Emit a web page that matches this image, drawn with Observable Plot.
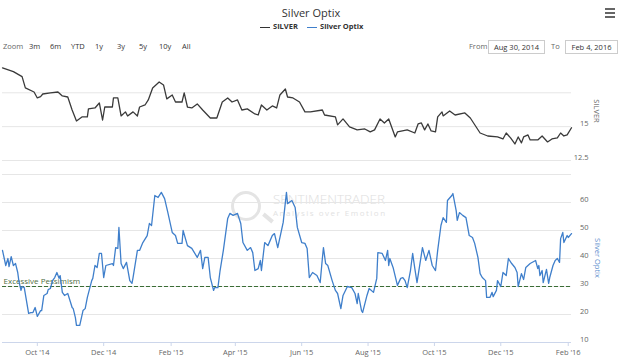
<!DOCTYPE html>
<html><head><meta charset="utf-8">
<script src="https://cdn.jsdelivr.net/npm/d3@7"></script>
<script src="https://cdn.jsdelivr.net/npm/@observablehq/plot@0.6"></script>
<style>
body{margin:0;background:#fff;font-family:"Open Sans",sans-serif;}
#wrap{position:relative;width:620px;height:364px;overflow:hidden;background:#fff;}
#wrap svg{position:absolute;left:0;top:0;}
.abs{position:absolute;white-space:nowrap;line-height:1;}
.c{transform:translate(-50%,-50%);}
.l{transform:translate(0,-50%);}
.btn{font-size:7.5px;color:#333;}
.box{position:absolute;border:1px solid #ccc;font-size:7.5px;color:#333;text-align:center;box-sizing:border-box;line-height:12px;}
</style></head><body><div id="wrap">
<div class="abs c" style="left:311px;top:12px;font-size:11px;color:#333;">Silver Optix</div>
<div class="abs" style="left:605px;top:8px;width:10px;height:1.5px;background:#666;"></div>
<div class="abs" style="left:605px;top:12px;width:10px;height:1.5px;background:#666;"></div>
<div class="abs" style="left:605px;top:16px;width:10px;height:1.5px;background:#666;"></div>
<div class="abs" style="left:260px;top:26.5px;width:10px;height:1.5px;background:#333;"></div>
<div class="abs l" style="left:273px;top:27px;font-size:7.5px;font-weight:bold;color:#333;">SILVER</div>
<div class="abs" style="left:307px;top:26.5px;width:10px;height:1.5px;background:#3f7fcb;"></div>
<div class="abs l" style="left:320px;top:27px;font-size:7.5px;font-weight:bold;color:#333;">Silver Optix</div>
<div class="abs l btn" style="left:3px;top:47px;color:#666;">Zoom</div>
<div class="abs l btn" style="left:29px;top:47px;">3m</div>
<div class="abs l btn" style="left:50px;top:47px;">6m</div>
<div class="abs l btn" style="left:71px;top:47px;">YTD</div>
<div class="abs l btn" style="left:95px;top:47px;">1y</div>
<div class="abs l btn" style="left:117px;top:47px;">3y</div>
<div class="abs l btn" style="left:139px;top:47px;">5y</div>
<div class="abs l btn" style="left:159px;top:47px;">10y</div>
<div class="abs l btn" style="left:182px;top:47px;">All</div>
<div class="abs l btn" style="left:469px;top:47px;color:#666;">From</div>
<div class="box" style="left:488px;top:40px;width:57px;height:14px;">Aug 30, 2014</div>
<div class="abs l btn" style="left:551px;top:47px;color:#666;">To</div>
<div class="box" style="left:565px;top:40px;width:53px;height:14px;">Feb 4, 2016</div>
<div class="abs" style="left:231px;top:191px;width:24px;height:24px;border:3px solid #e4e4e4;border-radius:50%;"></div>
<div class="abs" style="left:262px;top:216px;width:12px;height:4px;background:#e4e4e4;transform:rotate(40deg);"></div>
<div class="abs l" style="left:273px;top:200px;font-size:13.5px;color:#dedede;font-weight:300;">SENTIMENTRADER</div>
<div class="abs l" style="left:273px;top:213px;font-size:8px;color:#e2e2e2;letter-spacing:1.5px;">Analysis over Emotion</div>
<div class="abs c" style="left:596px;top:111px;font-size:7.5px;color:#666;transform:translate(-50%,-50%) rotate(90deg);">SILVER</div>
<div class="abs c" style="left:597px;top:258px;font-size:7.5px;color:#5a8ccc;transform:translate(-50%,-50%) rotate(90deg);">Silver Optix</div>
</div>
<script>
const silverDates = ["2014-08-30","2014-09-09","2014-09-17","2014-09-20","2014-09-28","2014-10-01","2014-10-04","2014-10-06","2014-10-13","2014-10-20","2014-10-24","2014-10-29","2014-11-02","2014-11-06","2014-11-11","2014-11-16","2014-11-17","2014-11-23","2014-11-27","2014-11-30","2014-12-02","2014-12-09","2014-12-10","2014-12-14","2014-12-17","2014-12-21","2014-12-23","2014-12-28","2015-01-01","2015-01-03","2015-01-08","2015-01-11","2015-01-15","2015-01-21","2015-01-25","2015-01-28","2015-02-02","2015-02-05","2015-02-11","2015-02-13","2015-02-16","2015-02-20","2015-02-25","2015-03-02","2015-03-09","2015-03-15","2015-03-20","2015-03-25","2015-03-29","2015-04-03","2015-04-07","2015-04-12","2015-04-19","2015-04-22","2015-04-25","2015-04-30","2015-05-05","2015-05-09","2015-05-12","2015-05-17","2015-05-19","2015-05-24","2015-05-30","2015-06-04","2015-06-09","2015-06-20","2015-06-22","2015-07-02","2015-07-04","2015-07-09","2015-07-15","2015-07-22","2015-07-29","2015-08-03","2015-08-07","2015-08-12","2015-08-16","2015-08-20","2015-08-23","2015-08-26","2015-08-28","2015-09-06","2015-09-13","2015-09-16","2015-09-19","2015-09-22","2015-09-25","2015-09-28","2015-10-02","2015-10-04","2015-10-08","2015-10-09","2015-10-15","2015-10-20","2015-10-29","2015-11-03","2015-11-12","2015-11-19","2015-11-28","2015-12-03","2015-12-06","2015-12-10","2015-12-14","2015-12-17","2015-12-20","2015-12-22","2015-12-26","2015-12-28","2016-01-04","2016-01-08","2016-01-13","2016-01-17","2016-01-22","2016-01-25","2016-01-28","2016-01-31","2016-02-04"];
const silverValues = [19.34,19.06,18.69,17.86,17.56,17.12,17.22,17.41,17.49,17.56,17.27,17.19,16.23,15.42,15.72,15.72,16.31,16.38,16.75,15.49,16.45,16.45,17.12,17.12,15.79,16.09,15.79,16.09,15.79,16.45,16.60,16.97,17.86,18.30,18.08,17.05,17.34,16.82,16.82,17.49,16.45,16.38,16.68,16.23,15.64,15.64,16.82,17.12,16.82,16.97,16.23,16.31,15.94,15.86,16.60,16.23,16.53,16.38,17.34,17.78,17.19,17.12,16.82,16.09,16.09,16.23,15.86,15.72,15.13,15.57,14.98,14.76,14.83,14.61,14.76,15.57,15.27,15.57,14.90,14.24,14.61,14.76,14.53,15.20,15.27,14.76,15.20,14.68,14.61,15.72,16.09,15.79,16.16,15.86,16.01,15.64,14.53,14.31,14.24,14.09,14.53,14.17,13.72,14.24,13.80,14.24,14.39,14.02,14.02,14.31,13.87,14.09,14.17,14.53,14.31,14.39,14.92];

const optixDates = ["2014-08-30","2014-09-02","2014-09-04","2014-09-05","2014-09-07","2014-09-09","2014-09-11","2014-09-13","2014-09-14","2014-09-16","2014-09-17","2014-09-19","2014-09-23","2014-09-25","2014-09-27","2014-09-29","2014-10-01","2014-10-04","2014-10-05","2014-10-07","2014-10-10","2014-10-11","2014-10-13","2014-10-15","2014-10-17","2014-10-19","2014-10-21","2014-10-22","2014-10-24","2014-10-26","2014-10-29","2014-10-31","2014-11-02","2014-11-03","2014-11-05","2014-11-06","2014-11-09","2014-11-12","2014-11-14","2014-11-16","2014-11-20","2014-11-21","2014-11-23","2014-11-25","2014-11-27","2014-11-29","2014-12-01","2014-12-03","2014-12-09","2014-12-10","2014-12-12","2014-12-14","2014-12-15","2014-12-17","2014-12-19","2014-12-22","2014-12-25","2014-12-27","2014-12-28","2015-01-01","2015-01-03","2015-01-06","2015-01-10","2015-01-12","2015-01-14","2015-01-17","2015-01-20","2015-01-23","2015-01-26","2015-01-29","2015-02-02","2015-02-05","2015-02-07","2015-02-11","2015-02-12","2015-02-16","2015-02-20","2015-02-25","2015-02-28","2015-03-02","2015-03-04","2015-03-07","2015-03-09","2015-03-12","2015-03-13","2015-03-16","2015-03-18","2015-03-21","2015-03-25","2015-03-27","2015-03-30","2015-04-03","2015-04-06","2015-04-08","2015-04-12","2015-04-15","2015-04-17","2015-04-19","2015-04-22","2015-04-24","2015-04-25","2015-04-28","2015-05-01","2015-05-05","2015-05-07","2015-05-10","2015-05-15","2015-05-18","2015-05-19","2015-05-23","2015-05-26","2015-05-28","2015-06-01","2015-06-04","2015-06-06","2015-06-08","2015-06-11","2015-06-15","2015-06-18","2015-06-20","2015-06-21","2015-06-23","2015-06-25","2015-06-29","2015-07-02","2015-07-04","2015-07-07","2015-07-09","2015-07-13","2015-07-17","2015-07-20","2015-07-22","2015-07-23","2015-07-26","2015-07-27","2015-07-31","2015-08-02","2015-08-06","2015-08-09","2015-08-10","2015-08-14","2015-08-17","2015-08-19","2015-08-20","2015-08-21","2015-08-24","2015-08-28","2015-08-31","2015-09-02","2015-09-04","2015-09-06","2015-09-09","2015-09-11","2015-09-13","2015-09-15","2015-09-17","2015-09-20","2015-09-23","2015-09-26","2015-09-29","2015-10-02","2015-10-04","2015-10-07","2015-10-09","2015-10-12","2015-10-13","2015-10-17","2015-10-18","2015-10-21","2015-10-22","2015-10-24","2015-10-27","2015-10-30","2015-11-02","2015-11-05","2015-11-07","2015-11-10","2015-11-12","2015-11-14","2015-11-17","2015-11-18","2015-11-21","2015-11-23","2015-11-24","2015-11-27","2015-11-28","2015-12-01","2015-12-03","2015-12-06","2015-12-08","2015-12-11","2015-12-14","2015-12-16","2015-12-17","2015-12-20","2015-12-22","2015-12-24","2015-12-28","2016-01-02","2016-01-04","2016-01-05","2016-01-06","2016-01-08","2016-01-09","2016-01-12","2016-01-14","2016-01-15","2016-01-18","2016-01-20","2016-01-22","2016-01-24","2016-01-25","2016-01-27","2016-01-28","2016-01-31","2016-02-01","2016-02-04"];
const optixValues = [42.9,37.5,40,37.1,40.7,37.5,38.2,35,32.1,28.6,30,29.6,20.4,20.7,20.7,22.5,19.3,21.4,21.4,26.8,27.5,28.9,29.3,32.1,33.2,35,32.9,33.9,27.9,26.8,27.5,25,22.5,22.1,18.9,16.1,16.1,21.4,22.1,26.1,32.1,32.9,37.5,36.8,41.8,41.8,33.2,37.5,38.2,37.5,43.9,43.6,51.1,38.2,36.4,38.6,32.1,31.1,33.2,42.9,42.9,45.7,48.2,52.5,51.8,62.5,61.8,63.6,61.4,56.4,49.3,48.2,45.4,45.4,50,44.6,43.6,40.4,42.9,36.4,40.4,40.4,33.2,28.6,29.6,29.6,35.7,42.9,54.3,56.1,55.4,56.1,52.5,45.7,42.9,43.9,42.1,35.7,36.4,39.3,35.7,45.7,44.6,48.2,48.9,43.9,52.9,63.6,59.6,60.7,58.2,51.1,45.7,45.4,43.6,33.2,35,33.9,31.4,40,43.9,38.2,37.5,32.1,28.6,27.5,22.1,26.8,30,29.6,27.5,23.9,27.5,21.4,20.7,26.8,29.3,27.9,32.9,42.1,41.8,39.3,42.9,37.5,40,36.8,30.4,32.9,33.2,32.1,29.6,35.7,41.8,36.4,31.4,36.4,43.9,39.3,42.9,37.5,35.7,42.9,51.8,54.6,52.9,60.7,62.5,63.2,57.1,53.6,56.4,55.4,54.6,48.2,47.5,45.4,40.4,34.6,33.2,32.1,26.1,26.1,27.9,26.4,28.6,32.1,30,35,33.9,40,38.2,36.8,35,30,34.6,32.5,36.8,38.2,39.3,36.4,37.5,33.9,35.7,31.4,36.1,31.1,33.2,37.5,39.3,40,38.6,47.1,49.3,45.7,48.2,47.5,48.9];

const xDomain = ["2014-08-30", "2016-02-04"];
const xTicks = ["2014-10-01","2014-12-01","2015-02-01","2015-04-01","2015-06-01","2015-08-01","2015-10-01","2015-12-01","2016-02-01"];
const silverGrid = [12.5, 15, 17.5];
const silverTicks = [12.5, 15];
const silverDomain = [12.5, 19.885];
const optixGrid = [10, 20, 30, 40, 50, 60, 70];
const optixTicks = [10, 20, 30, 40, 50, 60];
const optixDomain = [10, 70];
const pessimismLevel = 30;
const pessimismLabel = "Excessive Pessimism";

const parse = d3.utcParse("%Y-%m-%d");
const silver = silverDates.map((d, i) => ({date: parse(d), value: silverValues[i]}));
const optix = optixDates.map((d, i) => ({date: parse(d), value: optixValues[i]}));
const domain = xDomain.map(parse);
const ticks = xTicks.map(parse);

const wrap = document.getElementById("wrap");

const topPlot = Plot.plot({
  width: 620, height: 364,
  marginLeft: 2, marginRight: 49, marginTop: 60, marginBottom: 204,
  x: {type: "utc", domain, axis: null},
  y: {domain: silverDomain, axis: null},
  style: {background: "transparent", fontFamily: "Open Sans, sans-serif", overflow: "visible"},
  marks: [
    Plot.gridY(silverGrid, {stroke: "#e6e6e6", strokeOpacity: 1}),
    Plot.axisY(silverTicks, {anchor: "right", tickSize: 0, tickPadding: 17, textAnchor: "end", dy: -3, fill: "#666", fontSize: 7.5, label: null, tickFormat: d => String(d)}),
    Plot.line(silver, {x: "date", y: "value", stroke: "#3a3a3a", strokeWidth: 1.3})
  ]
});

const botPlot = Plot.plot({
  width: 620, height: 364,
  marginLeft: 2, marginRight: 49, marginTop: 174, marginBottom: 22,
  x: {type: "utc", domain, axis: null},
  y: {domain: optixDomain, axis: null},
  style: {background: "transparent", fontFamily: "Open Sans, sans-serif", overflow: "visible"},
  marks: [
    Plot.gridY(optixGrid, {stroke: "#e6e6e6", strokeOpacity: 1}),
    Plot.ruleY([optixDomain[0]], {stroke: "#ccd6eb"}),
    Plot.axisX(ticks, {anchor: "bottom", tickSize: 4, tickPadding: 3, stroke: "#ccd6eb", fill: "#666", fontSize: 7.5, tickFormat: d3.utcFormat("%b '%y"), label: null}),
    Plot.axisY(optixTicks, {anchor: "right", tickSize: 0, tickPadding: 17, textAnchor: "end", dy: -3, fill: "#666", fontSize: 7.5, label: null, tickFormat: d => String(d)}),
    Plot.ruleY([pessimismLevel], {stroke: "#3b6d35", strokeWidth: 1.2, strokeDasharray: "4,2"}),
    Plot.text([{date: domain[0], value: pessimismLevel, label: pessimismLabel}], {x: "date", y: "value", text: "label", textAnchor: "start", dx: 1, dy: -5, fill: "#4f6e42", fontSize: 8}),
    Plot.line(optix, {x: "date", y: "value", stroke: "#3f7fcb", strokeWidth: 1.3})
  ]
});

wrap.appendChild(topPlot);
wrap.appendChild(botPlot);
</script>
</body></html>
